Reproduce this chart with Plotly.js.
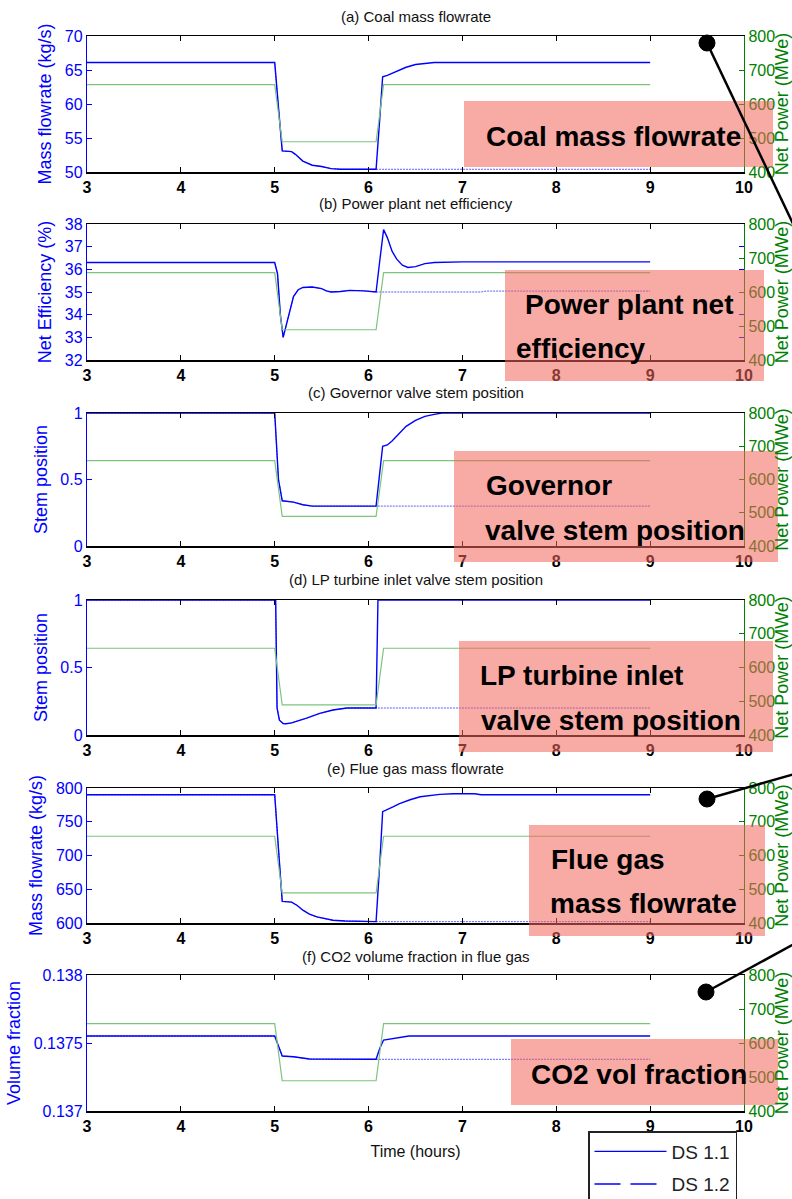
<!DOCTYPE html>
<html>
<head>
<meta charset="utf-8">
<script src="https://cdn.plot.ly/plotly-3.0.1.min.js"></script>
<style>
  html, body { margin: 0; padding: 0; background: #ffffff; overflow: hidden; }
  #chart { width: 792px; height: 1199px; }
</style>
</head>
<body>
<div id="chart"></div>
<script>
// ---------------------------------------------------------------
// Load-change simulation results, 3 h to 9 h
// ---------------------------------------------------------------

// Net power output (MWe), right-hand axis of every panel
const powerTime = [3, 5.0, 5.08, 6.08, 6.16, 9];
const netPower  = [657, 657, 489, 489, 657, 657];

// Time at which DS 1.2 departs from DS 1.1 (held afterwards)
const splitTime = 6.08;

// (a) Coal mass flowrate (kg/s)
const coalTime   = [3, 5.0, 5.04, 5.08, 5.18, 5.22, 5.3, 5.4, 5.5, 5.6, 5.7, 6.08, 6.12, 6.15, 6.2, 6.3, 6.4, 6.5, 6.6, 6.7, 9];
const coalDS11   = [66.1, 66.1, 59.5, 53.1, 53.0, 52.6, 51.6, 51.0, 50.8, 50.5, 50.4, 50.4, 58.0, 64.0, 64.2, 64.8, 65.4, 65.8, 66.0, 66.1, 66.1];
const coalDS12Time = [6.08, 9];
const coalDS12     = [50.4, 50.4];

// (b) Power plant net efficiency (%)
const effTime  = [3, 5.0, 5.03, 5.06, 5.09, 5.12, 5.16, 5.2, 5.25, 5.3, 5.4, 5.5, 5.55, 5.6, 5.7, 5.8, 5.95, 6.08, 6.12, 6.16, 6.2, 6.25, 6.3, 6.36, 6.42, 6.5, 6.6, 6.7, 7.0, 9];
const effDS11  = [36.3, 36.3, 35.8, 34.0, 33.0, 33.5, 34.2, 34.8, 35.1, 35.2, 35.22, 35.15, 35.05, 35.0, 35.02, 35.07, 35.05, 35.0, 36.4, 37.75, 37.4, 36.8, 36.45, 36.18, 36.08, 36.12, 36.25, 36.3, 36.33, 36.33];
const effDS12Time = [6.08, 7.2, 7.25, 9];
const effDS12     = [35.0, 35.0, 35.04, 35.04];

// (c) Governor valve stem position (-)
const govTime  = [3, 5.0, 5.04, 5.08, 5.2, 5.25, 5.3, 5.4, 6.08, 6.15, 6.2, 6.25, 6.33, 6.4, 6.5, 6.6, 6.7, 6.78, 9];
const govDS11  = [1.0, 1.0, 0.5, 0.34, 0.33, 0.32, 0.31, 0.30, 0.30, 0.75, 0.76, 0.79, 0.85, 0.90, 0.945, 0.975, 0.99, 1.0, 1.0];
const govDS12Time = [6.08, 9];
const govDS12     = [0.30, 0.30];

// (d) LP turbine inlet valve stem position (-)
const lpTime   = [3, 5.01, 5.025, 5.05, 5.09, 5.12, 5.18, 5.25, 5.34, 5.48, 5.62, 5.77, 6.08, 6.1, 9];
const lpDS11   = [1.0, 1.0, 0.2, 0.11, 0.085, 0.083, 0.09, 0.105, 0.125, 0.16, 0.185, 0.2, 0.2, 1.0, 1.0];
const lpDS12Time = [6.08, 9];
const lpDS12     = [0.2, 0.2];

// (e) Flue gas mass flowrate (kg/s)
const flueTime = [3, 5.0, 5.04, 5.08, 5.18, 5.24, 5.3, 5.37, 5.45, 5.52, 5.62, 5.75, 6.08, 6.12, 6.15, 6.26, 6.33, 6.45, 6.55, 6.76, 6.9, 7.13, 7.2, 9];
const flueDS11 = [790, 790, 710, 632, 631, 626, 619, 613, 609, 607, 604, 603, 602, 690, 765, 772, 777, 783, 787, 790.5, 791.5, 791.5, 790, 790];
const flueDS12Time = [6.08, 9];
const flueDS12     = [602, 602];

// (f) CO2 volume fraction in flue gas (-)
const co2Time  = [3, 5.0, 5.04, 5.08, 5.2, 5.25, 5.37, 6.08, 6.12, 6.16, 6.3, 6.43, 9];
const co2DS11  = [0.137551, 0.137551, 0.137478, 0.137404, 0.137399, 0.137395, 0.137382, 0.13738, 0.137461, 0.137522, 0.137539, 0.137551, 0.137551];
const co2DS12Time = [6.08, 9];
const co2DS12     = [0.13738, 0.13738];

// Axis tick labels
const timeTicks = [3, 4, 5, 6, 7, 8, 9, 10];
const powerTicks = [400, 500, 600, 700, 800];

// ---------------------------------------------------------------
// Figure geometry (pixels on a 792 x 1199 page)
// ---------------------------------------------------------------
const W = 792, H = 1199;
const px = v => v / W;
const py = v => 1 - v / H;

const FONT = 'Liberation Sans, Arial, Helvetica, sans-serif';
const BLUE = '#0000ff';
const GREEN = '#008000';
const POWER_LINE = '#7cc47c';

const panels = [
  { top: 36,  bottom: 172,  range: [50, 70],   tickvals: [50, 55, 60, 65, 70],
    title: '(a) Coal mass flowrate', titleY: 16, ytitle: 'Mass flowrate (kg/s)',
    time: coalTime, ds11: coalDS11, ds12Time: coalDS12Time, ds12: coalDS12 },
  { top: 224, bottom: 360,  range: [32, 38],   tickvals: [32, 33, 34, 35, 36, 37, 38],
    title: '(b) Power plant net efficiency', titleY: 204, ytitle: 'Net Efficiency (%)',
    time: effTime, ds11: effDS11, ds12Time: effDS12Time, ds12: effDS12 },
  { top: 413, bottom: 546,  range: [0, 1],     tickvals: [0, 0.5, 1],
    title: '(c) Governor valve stem position', titleY: 392, ytitle: 'Stem position',
    time: govTime, ds11: govDS11, ds12Time: govDS12Time, ds12: govDS12 },
  { top: 600, bottom: 735,  range: [0, 1],     tickvals: [0, 0.5, 1],
    title: '(d) LP turbine inlet valve stem position', titleY: 579, ytitle: 'Stem position',
    time: lpTime, ds11: lpDS11, ds12Time: lpDS12Time, ds12: lpDS12 },
  { top: 788, bottom: 923,  range: [600, 800], tickvals: [600, 650, 700, 750, 800],
    title: '(e) Flue gas mass flowrate', titleY: 768, ytitle: 'Mass flowrate (kg/s)',
    time: flueTime, ds11: flueDS11, ds12Time: flueDS12Time, ds12: flueDS12 },
  { top: 975, bottom: 1111, range: [0.137, 0.138], tickvals: [0.137, 0.1375, 0.138],
    ticktext: ['0.137', '0.1375', '0.138'],
    title: '(f) CO2 volume fraction in flue gas', titleY: 956, ytitle: 'Volume fraction',
    time: co2Time, ds11: co2DS11, ds12Time: co2DS12Time, ds12: co2DS12 }
];

// Highlight boxes with their labels (one or two lines each)
const callouts = [
  { box: [464, 101, 773, 167],  lines: [{ text: 'Coal mass flowrate', x: 484, y: 136 }] },
  { box: [505, 270, 764, 381],  lines: [{ text: 'Power plant net', x: 523, y: 304 },
                                        { text: 'efficiency', x: 514, y: 348 }] },
  { box: [454, 451, 778, 562],  lines: [{ text: 'Governor', x: 484, y: 486 },
                                        { text: 'valve stem position', x: 483, y: 530 }] },
  { box: [459, 641, 773, 752],  lines: [{ text: 'LP turbine inlet', x: 478, y: 675 },
                                        { text: 'valve stem position', x: 479, y: 720 }] },
  { box: [529, 825, 765, 936],  lines: [{ text: 'Flue gas', x: 549, y: 859 },
                                        { text: 'mass flowrate', x: 548, y: 903 }] },
  { box: [511, 1039, 778, 1105], lines: [{ text: 'CO2 vol fraction', x: 529, y: 1074 }] }
];

// Pointer lines ending in a dot
const pointers = [
  { dot: [707, 43],  end: [805, 249] },
  { dot: [707, 799], end: [805, 771] },
  { dot: [706, 992], end: [805, 938] }
];

// ---------------------------------------------------------------
const traces = [];
const layout = {
  width: W, height: H,
  margin: { l: 0, r: 0, t: 0, b: 0, autoexpand: false },
  paper_bgcolor: '#ffffff',
  plot_bgcolor: 'rgba(0,0,0,0)',
  font: { family: FONT, color: '#222222' },
  showlegend: true,
  legend: {
    x: px(588), y: py(1131), xanchor: 'left', yanchor: 'top',
    bgcolor: '#ffffff', bordercolor: '#222222', borderwidth: 1.5,
    font: { family: FONT, size: 19, color: '#222222' },
    traceorder: 'grouped', tracegroupgap: 5, itemwidth: 72
  },
  shapes: [],
  annotations: []
};

panels.forEach((p, i) => {
  const n = i + 1;
  const xName = n === 1 ? 'x' : 'x' + n;
  const yName = n === 1 ? 'y' : 'y' + n;
  const y2Name = 'y' + (n + 6);
  const yDomain = [py(p.bottom), py(p.top)];

  layout[n === 1 ? 'xaxis' : 'xaxis' + n] = {
    domain: [px(87), px(744)], anchor: yName,
    range: [3, 10], tickvals: timeTicks,
    ticks: 'inside', ticklen: 5, tickcolor: '#000000', tickwidth: 1,
    showline: true, linecolor: '#000000', linewidth: 1.5, mirror: 'ticks',
    showgrid: false, zeroline: false,
    tickfont: { family: FONT, size: 16, color: '#000000', weight: 'bold' },
    title: n === 6 ? { text: 'Time (hours)', font: { family: FONT, size: 16, color: '#111111' }, standoff: 12 } : { text: '' }
  };

  layout[n === 1 ? 'yaxis' : 'yaxis' + n] = {
    domain: yDomain, anchor: xName,
    range: p.range, tickvals: p.tickvals, ticktext: p.ticktext,
    ticks: 'inside', ticklen: 5, tickcolor: BLUE, tickwidth: 1,
    showline: true, linecolor: BLUE, linewidth: 1.2, mirror: 'ticks',
    showgrid: false, zeroline: false,
    tickfont: { family: FONT, size: 16, color: BLUE },
    title: { text: p.ytitle, font: { family: FONT, size: 18, color: BLUE }, standoff: 8 }
  };

  layout['yaxis' + (n + 6)] = {
    domain: yDomain, anchor: xName, overlaying: yName, side: 'right',
    range: [400, 800], tickvals: powerTicks,
    ticks: 'inside', ticklen: 5, tickcolor: GREEN, tickwidth: 1,
    showline: true, linecolor: GREEN, linewidth: 1.2,
    showgrid: false, zeroline: false,
    tickfont: { family: FONT, size: 16, color: GREEN },
    title: { text: 'Net Power (MWe)', font: { family: FONT, size: 18, color: GREEN }, standoff: 5 }
  };

  // Net power on the right-hand axis
  traces.push({
    x: powerTime, y: netPower, xaxis: xName, yaxis: y2Name,
    type: 'scatter', mode: 'lines', name: 'Net power', showlegend: false,
    line: { color: POWER_LINE, width: 1.2 }, hoverinfo: 'skip'
  });

  // DS 1.2: follows DS 1.1 until the split, then its own held values
  const headIdx = p.time.map((t, k) => k).filter(k => p.time[k] < splitTime);
  traces.push({
    x: headIdx.map(k => p.time[k]).concat(p.ds12Time),
    y: headIdx.map(k => p.ds11[k]).concat(p.ds12),
    xaxis: xName, yaxis: yName,
    type: 'scatter', mode: 'lines', name: 'DS 1.2', showlegend: false,
    legendgroup: 'ds12',
    line: { color: 'rgba(40,40,255,0.75)', width: 1, dash: '2px,1px' }
  });

  // DS 1.1
  traces.push({
    x: p.time, y: p.ds11, xaxis: xName, yaxis: yName,
    type: 'scatter', mode: 'lines', name: 'DS 1.1', showlegend: n === 1,
    legendgroup: 'ds11',
    line: { color: BLUE, width: 1.4 }
  });

  // Panel caption
  layout.annotations.push({
    xref: 'paper', yref: 'paper', x: px(415.5), y: py(p.titleY),
    xanchor: 'center', yanchor: 'middle', showarrow: false,
    text: p.title, font: { family: FONT, size: 15, color: '#111111' }
  });
});

// Legend key for DS 1.2 (dashed)
traces.push({
  x: [null], y: [null], type: 'scatter', mode: 'lines', name: 'DS 1.2',
  legendgroup: 'ds12', showlegend: true,
  line: { color: BLUE, width: 1.4, dash: '26px,10px' }
});

// Highlight boxes and their labels
callouts.forEach(c => {
  const [x0, y0, x1, y1] = c.box;
  layout.shapes.push({
    type: 'rect', xref: 'paper', yref: 'paper', layer: 'above',
    x0: px(x0), x1: px(x1), y0: py(y1), y1: py(y0),
    fillcolor: 'rgba(242,100,90,0.55)', line: { width: 0 }
  });
  c.lines.forEach(l => {
    layout.annotations.push({
      xref: 'paper', yref: 'paper', x: px(l.x), y: py(l.y),
      xanchor: 'left', yanchor: 'middle', showarrow: false,
      text: l.text, font: { family: FONT, size: 28, color: '#000000', weight: 'bold' }
    });
  });
});

// Pointer lines with dots
pointers.forEach(pt => {
  layout.shapes.push({
    type: 'line', xref: 'paper', yref: 'paper', layer: 'above',
    x0: px(pt.dot[0]), y0: py(pt.dot[1]), x1: px(pt.end[0]), y1: py(pt.end[1]),
    line: { color: '#000000', width: 2.5 }
  });
  layout.shapes.push({
    type: 'circle', xref: 'paper', yref: 'paper', layer: 'above',
    x0: px(pt.dot[0] - 8), x1: px(pt.dot[0] + 8),
    y0: py(pt.dot[1] + 8), y1: py(pt.dot[1] - 8),
    fillcolor: '#000000', line: { color: '#000000', width: 1 }
  });
});

Plotly.newPlot('chart', traces, layout, { displayModeBar: false, staticPlot: true });
</script>
</body>
</html>
